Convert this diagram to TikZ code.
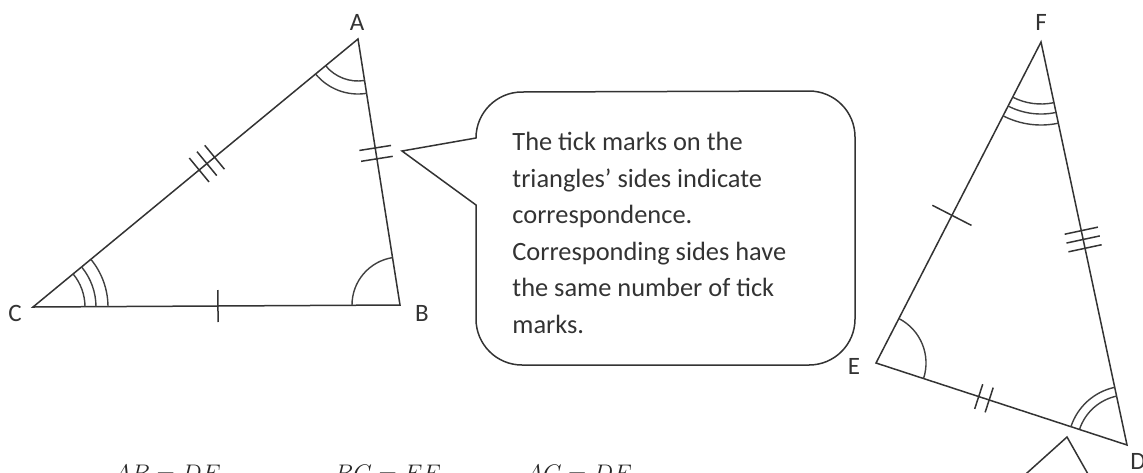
\documentclass[tikz,border=0pt]{standalone}
\usepackage{fontspec}
\setmainfont{Carlito}
\usepackage{tikz}
\usetikzlibrary{calc, angles}

\begin{document}
\begin{tikzpicture}[
    x=0.5pt, y=-0.5pt,
    side/.style={draw=black!80, line width=0.75pt},
    tickline/.style={draw=black!80, line width=0.75pt},
    anglemark/.style={draw=black!75, line width=0.7pt},
    vlabel/.style={font=\fontsize{12.5}{14}\selectfont, text=black!80, inner sep=0pt},
    note/.style={font=\fontsize{13.2}{18.25}\selectfont, text=black!80, align=left, inner sep=0pt},
    eq/.style={font=\fontsize{13}{15}\selectfont, text=black!85, inner sep=0pt, anchor=base west}
]
\useasboundingbox (0,0) rectangle (1143,472);
\clip (0,0) rectangle (1143,472);

% Triangle ABC
\coordinate (A) at (358,39);
\coordinate (B) at (400,305);
\coordinate (C) at (33,307);
\draw[side] (A) -- (B) -- (C) -- cycle;
\node[vlabel] (labA) at (357,22) {A};
\node[vlabel] (labB) at (422,313) {B};
\node[vlabel] (labC) at (15,313) {C};

% Angle marks of ABC
\pic[anglemark, angle radius=21pt] {angle=C--A--B};
\pic[anglemark, angle radius=27.5pt] {angle=C--A--B};
\pic[anglemark, angle radius=24pt] {angle=A--B--C};
\foreach \r in {26,31.5,37.5}
  \pic[anglemark, angle radius=\r pt] {angle=B--C--A};

% Tick marks of ABC
\path (A) -- (B) coordinate[pos=0.43] (mAB);
\foreach \s in {-1,1}{
  \coordinate (t) at ($(mAB)!\s*2.75pt!(B)$);
  \draw[tickline] ($(t)!8pt!90:(B)$) -- ($(t)!8pt!-90:(B)$);
}
\path (A) -- (C) coordinate[pos=0.465] (mAC);
\foreach \s in {-1,0,1}{
  \coordinate (t) at ($(mAC)!\s*5pt!(C)$);
  \draw[tickline] ($(t)!7.75pt!90:(C)$) -- ($(t)!7.75pt!-90:(C)$);
}
\path (C) -- (B) coordinate[pos=0.504] (mCB);
\draw[tickline] ($(mCB)!8pt!90:(B)$) -- ($(mCB)!8pt!-90:(B)$);

% Triangle DEF
\coordinate (F) at (1041,42);
\coordinate (E) at (876,363);
\coordinate (D) at (1127,445);
\draw[side] (F) -- (D) -- (E) -- cycle;
\node[vlabel] (labF) at (1041,22) {F};
\node[vlabel] (labE) at (854,366) {E};
\node[vlabel] (labD) at (1138,461) {D};

% Angle marks of DEF
\foreach \r in {31,36,41.5}
  \pic[anglemark, angle radius=\r pt] {angle=E--F--D};
\pic[anglemark, angle radius=25pt] {angle=D--E--F};
\pic[anglemark, angle radius=25pt] {angle=F--D--E};
\pic[anglemark, angle radius=29.5pt] {angle=F--D--E};

% Tick marks of DEF
\path (E) -- (F) coordinate[pos=0.46] (mEF);
\draw[tickline] ($(mEF)!11pt!90:(F)$) -- ($(mEF)!11pt!-90:(F)$);
\path (F) -- (D) coordinate[pos=0.49] (mFD);
\foreach \s in {-1,0,1}{
  \coordinate (t) at ($(mFD)!\s*4.5pt!(D)$);
  \draw[tickline] ($(t)!8.5pt!90:(D)$) -- ($(t)!8.5pt!-90:(D)$);
}
\path (E) -- (D) coordinate[pos=0.43] (mED);
\foreach \s in {-1,1}{
  \coordinate (t) at ($(mED)!\s*2.75pt!(D)$);
  \draw[tickline] ($(t)!6.5pt!90:(D)$) -- ($(t)!6.5pt!-90:(D)$);
}

% Callout
\draw[side] (402,151) -- (476,138) arc(180:270:46) -- (809,91) arc(270:360:46)
    -- (855,319) arc(0:90:46) -- (522,365) arc(90:180:46) -- (476,205) -- cycle;
\node[note, anchor=base west] (notetext) at (512,333) {The tick marks on the\\
    triangles’ sides indicate\\
    correspondence.\\
    Corresponding sides have\\
    the same number of tick\\
    marks.};

% Second callout, cut off below D
\draw[side] (1008,490) -- (1067,437) -- (1097,490);

% Equal sides
\node[eq] (eqAB) at (113,481) {$AB = DE$};
\node[eq] (eqBC) at (334,481) {$BC = EF$};
\node[eq] (eqAC) at (525,481) {$AC = DF$};
\end{tikzpicture}
\end{document}
